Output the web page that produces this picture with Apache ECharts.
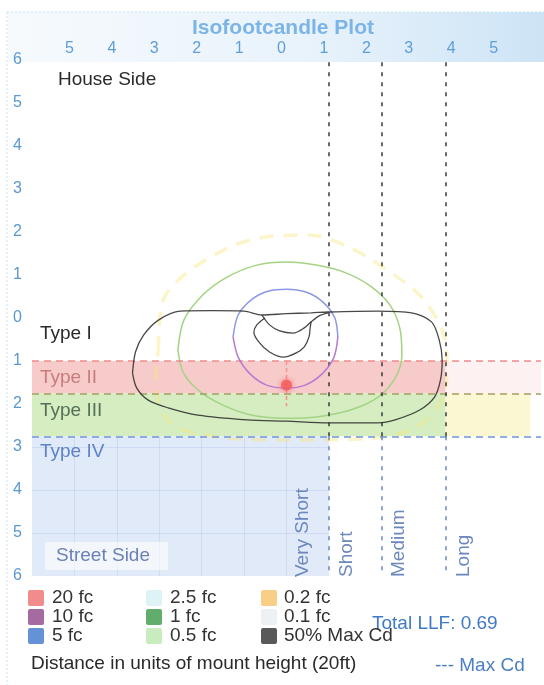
<!DOCTYPE html>
<html lang="en">
<head>
    <meta charset="utf-8">
    <title>Isofootcandle Plot</title>
    <script type="text/javascript" src="https://cdn.jsdelivr.net/npm/echarts@6/dist/echarts.min.js"></script>
    <style>
        html, body { margin: 0; padding: 0; background: #fff; }
        #main { width: 544px; height: 685px; }
    </style>
</head>
<body>
<div id="main"></div>
<script>
    // axis ticks, in units of mount height (y > 0 = street side)
    var ticks = [-6, -5, -4, -3, -2, -1, 0, 1, 2, 3, 4, 5, 6];
    // lateral classification: zone starts and the dashed dividers
    var rangeNames = ['Very Short', 'Short', 'Medium', 'Long'];
    var rangeStarts = [0, 1.0, 2.25, 3.75];
    var rangeLines = [1.0, 2.25, 3.75];
    // IES type boundaries (distance towards street side)
    var typeNames = ['Type I', 'Type II', 'Type III', 'Type IV'];
    var typeLines = [1.0, 1.75, 2.75];

    // contours, [x, y]
    var maxCd50Outer = [[-3.63, 1.28], [-3.56, 0.79], [-3.37, 0.40], [-3.02, 0.05], [-2.51, -0.16], [-1.74, -0.17],
        [-1.00, -0.16], [-0.58, -0.07], [0.00, -0.10], [0.58, -0.12], [0.98, -0.14], [2.16, -0.16], [2.95, -0.12],
        [3.42, 0.09], [3.60, 0.51], [3.67, 0.98], [3.63, 1.44], [3.49, 1.84], [3.14, 2.14], [2.56, 2.37], [2.16, 2.44],
        [1.00, 2.44], [0.00, 2.40], [-0.93, 2.37], [-2.09, 2.26], [-2.79, 2.09], [-3.26, 1.91], [-3.53, 1.63], [-3.63, 1.28]];
    var maxCd50Cup = [[-0.58, -0.07], [-0.40, 0.16], [-0.16, 0.30], [0.16, 0.35], [0.42, 0.23], [0.58, 0.09], [0.77, -0.05], [0.98, -0.12]];
    var maxCd50Inner = [[-0.51, 0.00], [-0.70, 0.16], [-0.77, 0.33], [-0.65, 0.56], [-0.40, 0.79], [-0.07, 0.91],
        [0.23, 0.81], [0.42, 0.67], [0.53, 0.44], [0.56, 0.21], [0.58, 0.09]];
    var fc1 = [[-2.56, 0.74], [-2.42, 0.05], [-1.98, -0.53], [-1.40, -0.95], [-0.70, -1.23], [0.00, -1.30], [0.70, -1.23],
        [1.40, -1.05], [1.98, -0.74], [2.44, -0.30], [2.67, 0.23], [2.72, 0.86], [2.56, 1.40], [2.16, 1.84], [1.51, 2.14],
        [0.70, 2.30], [0.00, 2.33], [-0.81, 2.26], [-1.51, 2.02], [-2.09, 1.67], [-2.44, 1.26], [-2.56, 0.74]];
    var fc5 = [[-1.26, 0.44], [-1.14, -0.07], [-0.81, -0.44], [-0.42, -0.63], [0.00, -0.67], [0.47, -0.60], [0.86, -0.37], [1.14, 0.00], [1.21, 0.44]];
    var fc10 = [[1.21, 0.44], [1.12, 0.91], [0.84, 1.30], [0.44, 1.56], [0.00, 1.63], [-0.47, 1.56], [-0.86, 1.30], [-1.14, 0.91], [-1.26, 0.44]];
    var fc02 = [[-3.02, 0.74], [-2.91, -0.42], [-2.33, -1.07], [-1.33, -1.65], [-0.53, -1.88], [0.53, -1.93], [1.47, -1.65],
        [2.26, -1.19], [3.14, -0.53], [3.67, 0.28], [3.79, 1.21], [3.60, 2.02], [3.02, 2.56], [2.09, 2.79], [0.23, 2.84],
        [-1.63, 2.77], [-2.67, 2.49], [-3.02, 1.91], [-3.09, 1.33], [-3.02, 0.74]];
    var fc20 = [[0.0, 1.56]];
    var maxCdLine = [[0, 1.0], [0, 2.05]];

    var legendRows = [
        ['20 fc', '#f28b8b'], ['10 fc', '#a56aa0'], ['5 fc', '#6591d6'],
        ['2.5 fc', '#def3f6'], ['1 fc', '#62ad6c'], ['0.5 fc', '#c8ecbd'],
        ['0.2 fc', '#f9cf88'], ['0.1 fc', '#eef1f4'], ['50% Max Cd', '#595959']
    ];

    var FONT = "'Liberation Sans', Arial, sans-serif";
    var xMin = ticks[0], xMax = ticks[ticks.length - 1];

    // shaded type bands
    var bands = [
        [{coord: [xMin, typeLines[0]], itemStyle: {color: '#f8cbcb', opacity: 1}}, {coord: [rangeLines[2], typeLines[1]]}],
        [{coord: [rangeLines[2], typeLines[0]], itemStyle: {color: '#fdf2f1', opacity: 1}}, {coord: [xMax, typeLines[1]]}],
        [{coord: [xMin, typeLines[1]], itemStyle: {color: '#d6edc2', opacity: 1}}, {coord: [rangeLines[2], typeLines[2]]}],
        [{coord: [rangeLines[2], typeLines[1]], itemStyle: {color: '#faf7d2', opacity: 1}}, {coord: [5.75, typeLines[2]]}],
        [{coord: [xMin, typeLines[2]], itemStyle: {color: '#e1eaf8', opacity: 1}}, {coord: [rangeLines[0], xMax]}]
    ];

    // faint grid inside the type IV area
    var gridLines = [];
    ticks.forEach(function (t) {
        if (t > xMin && t < rangeLines[0]) {
            gridLines.push([{coord: [t, typeLines[2]]}, {coord: [t, xMax]}]);
        }
        if (t > typeLines[2] && t < xMax) {
            gridLines.push([{coord: [xMin, t]}, {coord: [rangeLines[0], t]}]);
        }
    });

    // dashed dividers
    var typeColors = ['#f08c8c', '#a89a64', '#6f95dc'];
    var dividers = [];
    typeLines.forEach(function (t, i) {
        dividers.push([{coord: [xMin, t], lineStyle: {color: typeColors[i], type: [7, 5], width: 1.5}}, {coord: [xMax, t]}]);
    });
    rangeLines.forEach(function (r) {
        dividers.push([{coord: [r, -5.95], lineStyle: {color: '#3a3a3a', type: [4, 6], width: 1.5}}, {coord: [r, typeLines[2]]}]);
        dividers.push([{coord: [r, typeLines[2]], lineStyle: {color: '#6d86b8', type: [4, 6], width: 1.5}}, {coord: [r, xMax]}]);
    });

    function contour(name, data, color, width, z, extra) {
        var s = {
            name: name, type: 'line', data: data, showSymbol: false, smooth: 0.3, z: z,
            lineStyle: {color: color, width: width}, silent: true
        };
        if (extra) { for (var k in extra) s.lineStyle[k] = extra[k]; }
        return s;
    }

    var myChart = echarts.init(document.getElementById('main'));

    function txt(x, y, s, fill, extra) {
        var g = {type: 'text', x: x, y: y, z: 100,
            style: {text: s, fill: fill, font: '19px ' + FONT, verticalAlign: 'middle'}};
        if (extra) { for (var k in extra) g[k] = extra[k]; }
        return g;
    }

    var graphic = [
        {type: 'rect', shape: {x: 8, y: 12, width: 536, height: 50}, z: -10,
            style: {fill: new echarts.graphic.LinearGradient(0, 0, 1, 0, [
                {offset: 0, color: '#f6fafd'}, {offset: 0.55, color: '#e9f3fb'}, {offset: 1, color: '#cde4f6'}])}},
        {type: 'line', shape: {x1: 7, y1: 12, x2: 7, y2: 685}, style: {stroke: '#c5e3ef', lineDash: [2, 2], lineWidth: 1}},
        {type: 'line', shape: {x1: 7, y1: 12, x2: 544, y2: 12}, style: {stroke: '#c5e3ef', lineDash: [2, 2], lineWidth: 1}},
        {type: 'text', x: 283, y: 28, z: 100, style: {text: 'Isofootcandle Plot', fill: '#7cb4e8', font: 'bold 21px ' + FONT, align: 'center', verticalAlign: 'middle'}},
        txt(58, 80, 'House Side', '#2a2a2a'),
        txt(40, 334, typeNames[0], '#2a2a2a'),
        txt(40, 378, typeNames[1], '#c77d7d'),
        txt(40, 411, typeNames[2], '#55705a'),
        txt(40, 452, typeNames[3], '#5c83c6'),
        {type: 'rect', z: 99, shape: {x: 45, y: 542, width: 123, height: 28}, style: {fill: 'rgba(255,255,255,0.6)'}},
        txt(56, 556, 'Street Side', '#6b80b5'),
        txt(372, 624, 'Total LLF: 0.69', '#3f7bc4'),
        txt(31, 664, 'Distance in units of mount height (20ft)', '#2a2a2a'),
        txt(435, 666, '--- Max Cd', '#4a7fc4')
    ];
    var rotX = [303, 347, 399, 464];
    rangeNames.forEach(function (n, i) {
        graphic.push(txt(rotX[i], 577, n, '#6c87bd', {rotation: Math.PI / 2}));
    });
    var colSq = [28, 146, 261], colTx = [52, 170, 284], rowY = [598, 617, 636];
    legendRows.forEach(function (r, i) {
        var c = Math.floor(i / 3), row = i % 3;
        graphic.push({type: 'rect', z: 100, shape: {x: colSq[c], y: rowY[row] - 8, width: 16, height: 16, r: 2}, style: {fill: r[1]}});
        graphic.push(txt(colTx[c], rowY[row], r[0], '#333'));
    });

    var option = {
        animation: false,
        backgroundColor: '#fff',
        grid: {left: 32, top: 60, width: 516, height: 516},
        xAxis: {
            type: 'value', position: 'top', min: xMin, max: xMax, interval: 1,
            axisLine: {show: false}, axisTick: {show: false}, splitLine: {show: false},
            axisLabel: {
                color: '#5e9ddb', fontSize: 16, fontFamily: FONT, margin: 3, padding: [0, 10, 0, 0],
                formatter: function (v) { return Math.abs(v) >= 6 ? '' : String(Math.abs(v)); }
            }
        },
        yAxis: {
            type: 'value', inverse: true, min: xMin, max: xMax, interval: 1,
            axisLine: {show: false}, axisTick: {show: false}, splitLine: {show: false},
            axisLabel: {
                color: '#5b97d0', fontSize: 16, fontFamily: FONT, margin: 10,
                formatter: function (v) { return String(Math.abs(v)); }
            }
        },
        graphic: graphic,
        series: [
            {type: 'line', data: [], z: 1, silent: true,
                markArea: {silent: true, data: bands}},
            {type: 'line', data: [], z: 2, silent: true,
                markLine: {silent: true, symbol: 'none', label: {show: false},
                    lineStyle: {color: 'rgba(140,170,225,0.22)', type: 'solid', width: 1}, data: gridLines}},
            contour('0.2 fc', fc02, 'rgba(245,230,120,0.4)', 3.5, 3, {type: [14, 10]}),
            contour('1 fc', fc1, '#a3d383', 1.5, 4),
            contour('5 fc', fc5, '#8a99e6', 1.5, 5),
            contour('10 fc', fc10, '#b57ad3', 1.5, 5),
            contour('50% Max Cd', maxCd50Outer, 'rgba(40,40,40,0.85)', 1.3, 6),
            contour('50% Max Cd', maxCd50Cup, 'rgba(40,40,40,0.85)', 1.3, 6),
            contour('50% Max Cd', maxCd50Inner, 'rgba(40,40,40,0.85)', 1.3, 6),
            {type: 'line', data: maxCdLine, showSymbol: false, z: 6, silent: true,
                lineStyle: {color: '#f09090', width: 1.5, type: [4, 3]}},
            {type: 'scatter', data: fc20, symbolSize: 11, z: 7, silent: true,
                itemStyle: {color: '#f25f5f', opacity: 0.85, shadowBlur: 6, shadowColor: '#f25f5f'}},
            {type: 'line', data: [], z: 8, silent: true,
                markLine: {silent: true, symbol: 'none', label: {show: false}, data: dividers}}
        ]
    };
    myChart.setOption(option);
</script>
</body>
</html>
